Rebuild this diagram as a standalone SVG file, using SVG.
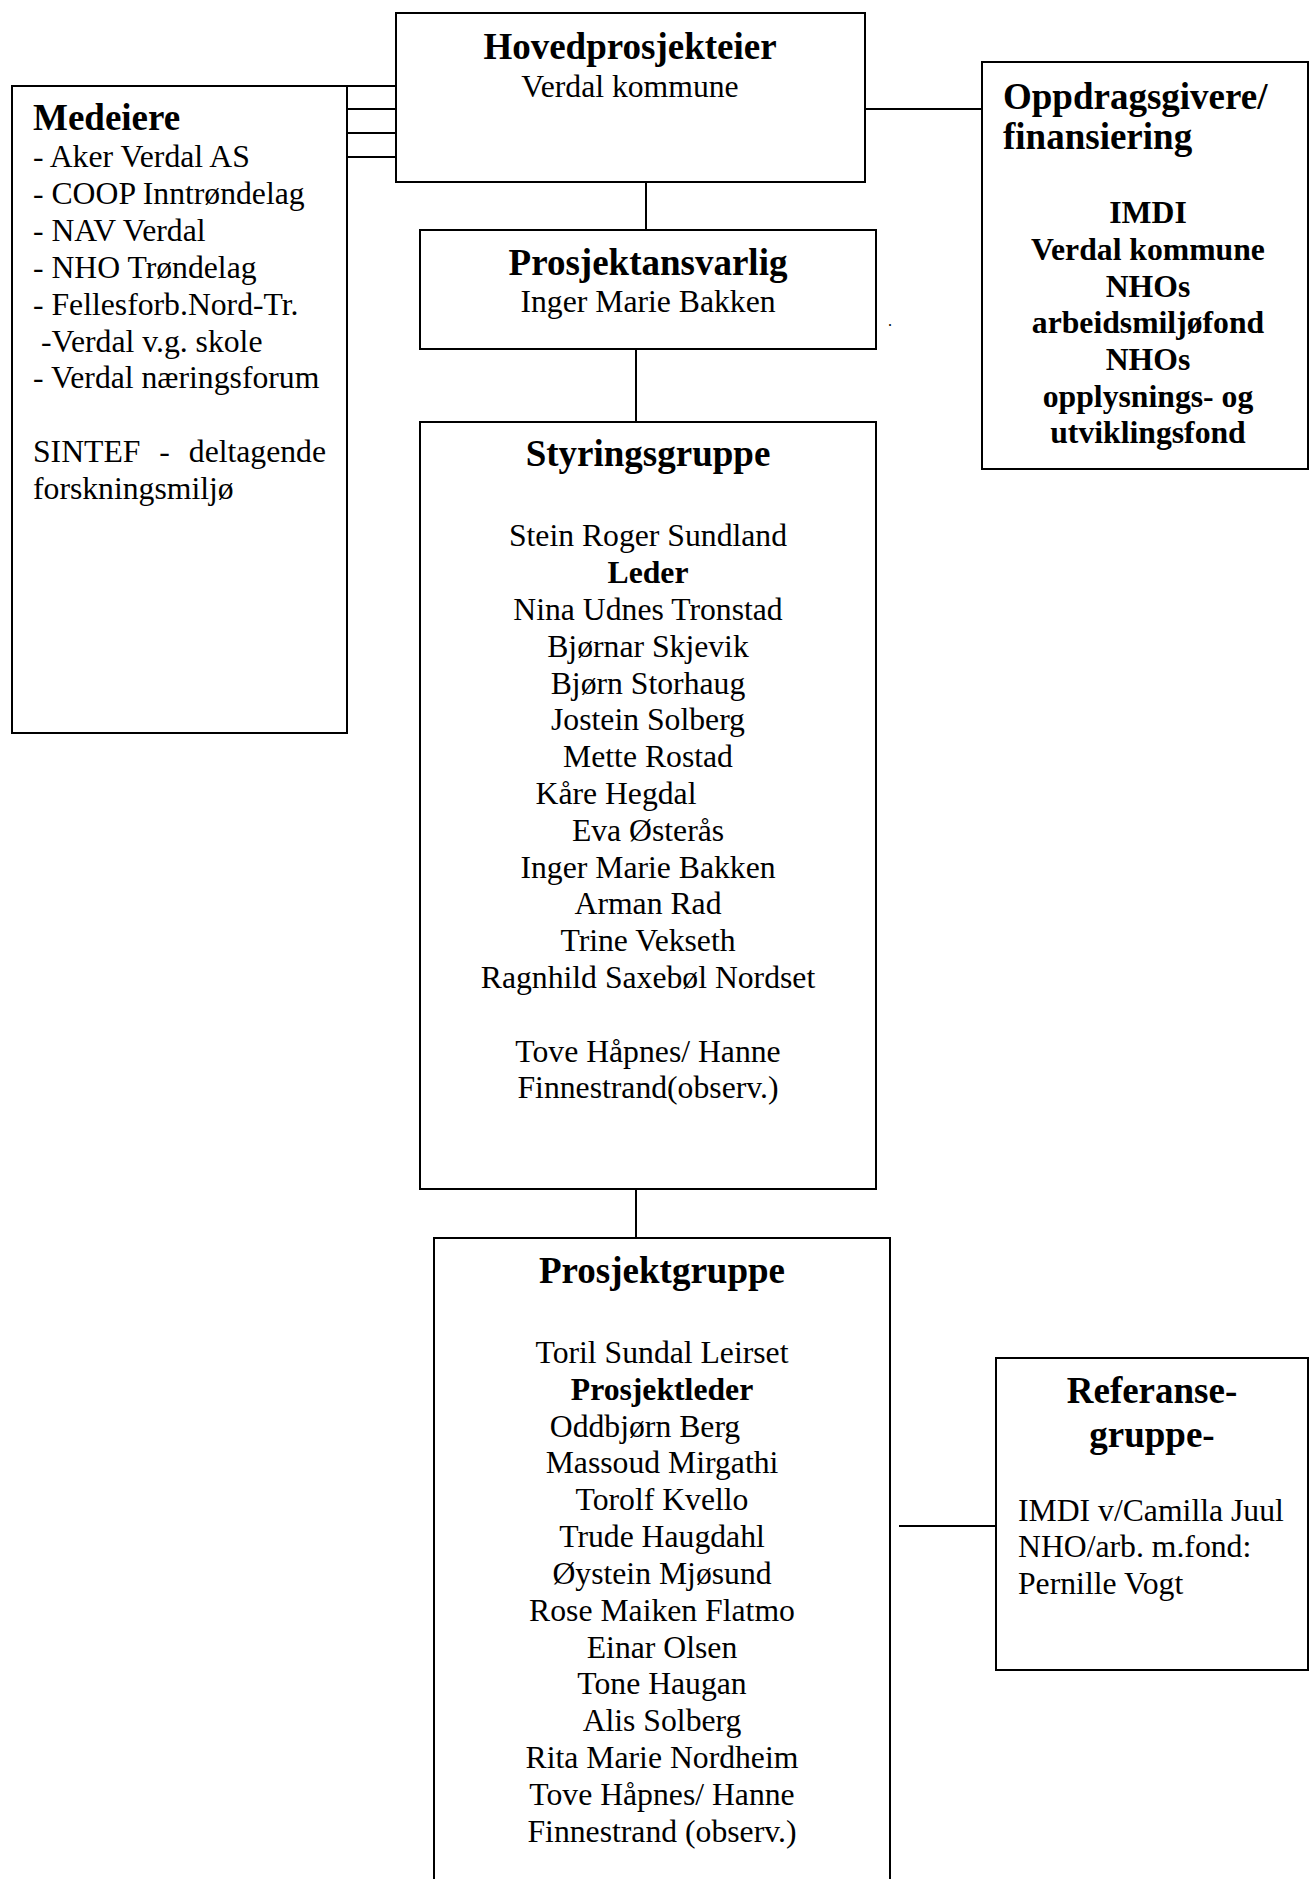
<svg xmlns="http://www.w3.org/2000/svg" width="1310" height="1879" viewBox="0 0 1310 1879">
<style>
  .box { fill: #ffffff; stroke: #000000; stroke-width: 2; }
  .open { fill: none; stroke: #000000; stroke-width: 2; }
  .line { fill: none; stroke: #000000; stroke-width: 2; }
  text { font-family: "Liberation Serif", "Times New Roman", serif; fill: #000000; }
  .h { font-size: 37px; font-weight: bold; }
  .n { font-size: 31.7px; }
  .b { font-size: 31.7px; font-weight: bold; }
  .c { text-anchor: middle; }
</style>
<rect width="1310" height="1879" fill="#ffffff"/>

<g id="connectors">
  <line class="line" x1="347" y1="86" x2="396" y2="86"/>
  <line class="line" x1="347" y1="109" x2="396" y2="109"/>
  <line class="line" x1="347" y1="133" x2="396" y2="133"/>
  <line class="line" x1="347" y1="157" x2="396" y2="157"/>
  <line class="line" x1="860" y1="109" x2="982" y2="109"/>
  <line class="line" x1="646" y1="182" x2="646" y2="230"/>
  <line class="line" x1="636" y1="349" x2="636" y2="422"/>
  <line class="line" x1="636" y1="1189" x2="636" y2="1238"/>
  <line class="line" x1="899" y1="1526" x2="996" y2="1526"/>
</g>

<g id="hovedprosjekteier">
  <rect class="box" x="396" y="13" width="469" height="169"/>
  <text class="h c" x="630" y="59">Hovedprosjekteier</text>
  <text class="n c" x="630" y="97">Verdal kommune</text>
</g>

<g id="medeiere">
  <rect class="box" x="12" y="86" width="335" height="647"/>
  <text class="h" x="33" y="130">Medeiere</text>
  <text class="n" x="33" y="167">- Aker Verdal AS</text>
  <text class="n" x="33" y="204">- COOP Inntrøndelag</text>
  <text class="n" x="33" y="241">- NAV Verdal</text>
  <text class="n" x="33" y="278">- NHO Trøndelag</text>
  <text class="n" x="33" y="315">- Fellesforb.Nord-Tr.</text>
  <text class="n" x="41" y="352">-Verdal v.g. skole</text>
  <text class="n" x="33" y="388">- Verdal næringsforum</text>
  <text class="n" x="33" y="462" word-spacing="11">SINTEF - deltagende</text>
  <text class="n" x="33" y="499">forskningsmiljø</text>
</g>

<g id="oppdragsgivere">
  <rect class="box" x="982" y="62" width="326" height="407"/>
  <text class="h" x="1003" y="109">Oppdragsgivere/</text>
  <text class="h" x="1003" y="149">finansiering</text>
  <text class="b c" x="1148" y="223">IMDI</text>
  <text class="b c" x="1148" y="260">Verdal kommune</text>
  <text class="b c" x="1148" y="297">NHOs</text>
  <text class="b c" x="1148" y="333">arbeidsmiljøfond</text>
  <text class="b c" x="1148" y="370">NHOs</text>
  <text class="b c" x="1148" y="407">opplysnings- og</text>
  <text class="b c" x="1148" y="443">utviklingsfond</text>
</g>

<g id="prosjektansvarlig">
  <rect class="box" x="420" y="230" width="456" height="119"/>
  <text class="h c" x="648" y="275">Prosjektansvarlig</text>
  <text class="n c" x="648" y="312">Inger Marie Bakken</text>
</g>

<text class="n" x="888" y="326" font-size="16px" style="font-size:16px">.</text>

<g id="styringsgruppe">
  <rect class="box" x="420" y="422" width="456" height="767"/>
  <text class="h c" x="648" y="466">Styringsgruppe</text>
  <text class="n c" x="648" y="546">Stein Roger Sundland</text>
  <text class="b c" x="648" y="583">Leder</text>
  <text class="n c" x="648" y="620">Nina Udnes Tronstad</text>
  <text class="n c" x="648" y="657">Bjørnar Skjevik</text>
  <text class="n c" x="648" y="694">Bjørn Storhaug</text>
  <text class="n c" x="648" y="730">Jostein Solberg</text>
  <text class="n c" x="648" y="767">Mette Rostad</text>
  <text class="n c" x="616" y="804">Kåre Hegdal</text>
  <text class="n c" x="648" y="841">Eva Østerås</text>
  <text class="n c" x="648" y="878">Inger Marie Bakken</text>
  <text class="n c" x="648" y="914">Arman Rad</text>
  <text class="n c" x="648" y="951">Trine Vekseth</text>
  <text class="n c" x="648" y="988">Ragnhild Saxebøl Nordset</text>
  <text class="n c" x="648" y="1062">Tove Håpnes/ Hanne</text>
  <text class="n c" x="648" y="1098">Finnestrand(observ.)</text>
</g>

<g id="prosjektgruppe">
  <path class="open" d="M434,1890 V1238 H890 V1890" fill="#ffffff"/>
  <text class="h c" x="662" y="1283">Prosjektgruppe</text>
  <text class="n c" x="662" y="1363">Toril Sundal Leirset</text>
  <text class="b c" x="662" y="1400">Prosjektleder</text>
  <text class="n c" x="645" y="1437">Oddbjørn Berg</text>
  <text class="n c" x="662" y="1473">Massoud Mirgathi</text>
  <text class="n c" x="662" y="1510">Torolf Kvello</text>
  <text class="n c" x="662" y="1547">Trude Haugdahl</text>
  <text class="n c" x="662" y="1584">Øystein Mjøsund</text>
  <text class="n c" x="662" y="1621">Rose Maiken Flatmo</text>
  <text class="n c" x="662" y="1658">Einar Olsen</text>
  <text class="n c" x="662" y="1694">Tone Haugan</text>
  <text class="n c" x="662" y="1731">Alis Solberg</text>
  <text class="n c" x="662" y="1768">Rita Marie Nordheim</text>
  <text class="n c" x="662" y="1805">Tove Håpnes/ Hanne</text>
  <text class="n c" x="662" y="1842">Finnestrand (observ.)</text>
</g>

<g id="referansegruppe">
  <rect class="box" x="996" y="1358" width="312" height="312"/>
  <text class="h c" x="1152" y="1403">Referanse-</text>
  <text class="h c" x="1152" y="1447">gruppe-</text>
  <text class="n" x="1018" y="1521">IMDI v/Camilla Juul</text>
  <text class="n" x="1018" y="1557">NHO/arb. m.fond:</text>
  <text class="n" x="1018" y="1594">Pernille Vogt</text>
</g>
</svg>
